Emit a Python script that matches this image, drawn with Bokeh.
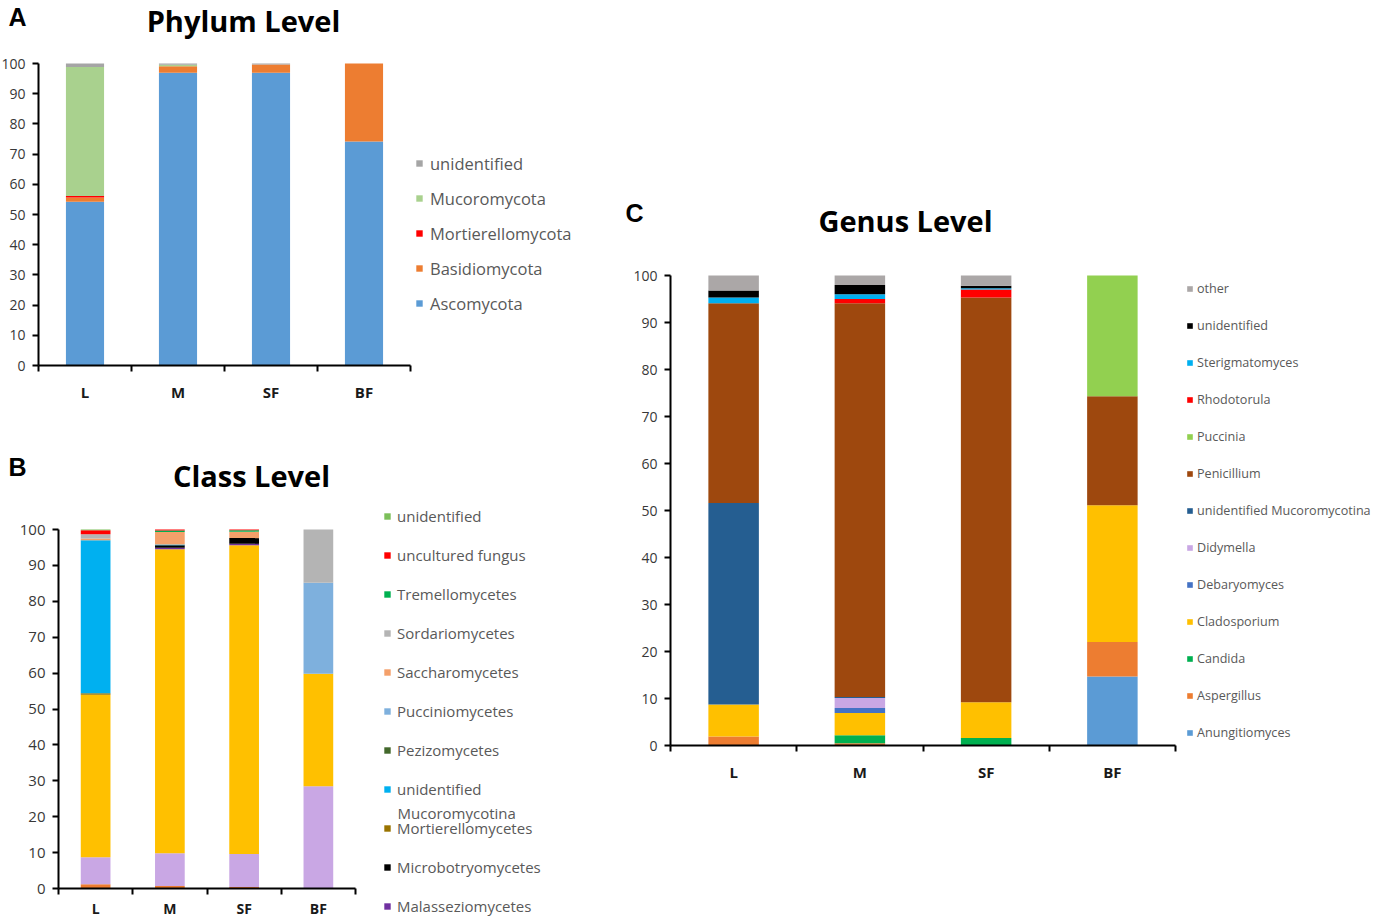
from bokeh.plotting import figure
from bokeh.models import ColumnDataSource, Range1d, FixedTicker, Legend, LegendItem, Label
from bokeh.layouts import row, column
from bokeh.embed import file_html
from bokeh.resources import INLINE

sites = ["L", "M", "SF", "BF"]

# ---------------- Phylum level (stack order bottom -> top) ----------------
phylum_names = ["Ascomycota", "Basidiomycota", "Mortierellomycota", "Mucoromycota", "unidentified"]
phylum_colors = ["#5B9BD5", "#ED7D31", "#FF0000", "#A9D18E", "#A5A5A5"]
ascomycota = [54.2, 96.9, 96.9, 74.2]
basidiomycota = [1.4, 2.2, 2.8, 25.8]
mortierellomycota = [0.5, 0.0, 0.0, 0.0]
mucoromycota = [42.7, 0.5, 0.0, 0.0]
phylum_unidentified = [1.2, 0.4, 0.3, 0.0]
phylum_values = [ascomycota, basidiomycota, mortierellomycota, mucoromycota, phylum_unidentified]
phylum_legend = ["unidentified", "Mucoromycota", "Mortierellomycota", "Basidiomycota", "Ascomycota"]

# ---------------- Class level (stack order bottom -> top) ----------------
class_names = ["Agaricomycetes", "Dothideomycetes", "Eurotiomycetes", "Malasseziomycetes",
               "Microbotryomycetes", "Mortierellomycetes", "unidentified Mucoromycotina",
               "Pezizomycetes", "Pucciniomycetes", "Saccharomycetes", "Sordariomycetes",
               "Tremellomycetes", "uncultured fungus", "unidentified"]
class_colors = ["#ED7D31", "#C9A7E4", "#FFC000", "#7030A0", "#000000", "#997300", "#00B0F0",
                "#43682B", "#7EB0DD", "#F4A06A", "#B4B4B4", "#00B050", "#FF0000", "#7CBF5A"]
agaricomycetes = [1.2, 0.7, 0.4, 0.0]
dothideomycetes = [7.5, 9.1, 9.2, 28.5]
eurotiomycetes = [45.3, 84.7, 86.0, 31.3]
malasseziomycetes = [0.0, 0.4, 0.4, 0.0]
microbotryomycetes = [0.0, 0.7, 1.6, 0.0]
mortierellomycetes = [0.4, 0.0, 0.0, 0.0]
class_unid_mucoromycotina = [42.6, 0.2, 0.0, 0.0]
pezizomycetes = [0.0, 0.0, 0.0, 0.0]
pucciniomycetes = [0.0, 0.0, 0.0, 25.4]
saccharomycetes = [0.5, 3.5, 1.8, 0.0]
sordariomycetes = [1.2, 0.0, 0.0, 14.8]
tremellomycetes = [0.0, 0.4, 0.4, 0.0]
uncultured_fungus = [1.1, 0.3, 0.2, 0.0]
class_unidentified = [0.2, 0.0, 0.0, 0.0]
class_values = [agaricomycetes, dothideomycetes, eurotiomycetes, malasseziomycetes,
                microbotryomycetes, mortierellomycetes, class_unid_mucoromycotina,
                pezizomycetes, pucciniomycetes, saccharomycetes, sordariomycetes,
                tremellomycetes, uncultured_fungus, class_unidentified]
# (series name, label shown), top -> bottom as in the visible legend
class_legend = [("unidentified", "unidentified"), ("uncultured fungus", "uncultured fungus"),
                ("Tremellomycetes", "Tremellomycetes"), ("Sordariomycetes", "Sordariomycetes"),
                ("Saccharomycetes", "Saccharomycetes"), ("Pucciniomycetes", "Pucciniomycetes"),
                ("Pezizomycetes", "Pezizomycetes"),
                ("unidentified Mucoromycotina", "unidentified"),
                ("Mortierellomycetes", "Mortierellomycetes"),
                ("Microbotryomycetes", "Microbotryomycetes"),
                ("Malasseziomycetes", "Malasseziomycetes")]

# ---------------- Genus level (stack order bottom -> top) ----------------
genus_names = ["Anungitiomyces", "Aspergillus", "Candida", "Cladosporium", "Debaryomyces",
               "Didymella", "unidentified Mucoromycotina", "Penicillium", "Puccinia",
               "Rhodotorula", "Sterigmatomyces", "unidentified", "other"]
genus_colors = ["#5B9BD5", "#ED7D31", "#00B050", "#FFC000", "#4472C4", "#C9A7E4", "#255E91",
                "#9E480E", "#92D050", "#FF0000", "#00B0F0", "#000000", "#ABA7A7"]
anungitiomyces = [0.0, 0.0, 0.0, 14.7]
aspergillus = [1.9, 0.5, 0.0, 7.3]
candida = [0.0, 1.7, 1.6, 0.0]
cladosporium = [6.8, 4.7, 7.6, 29.1]
debaryomyces = [0.0, 1.1, 0.0, 0.0]
didymella = [0.0, 2.1, 0.0, 0.0]
genus_unid_mucoromycotina = [42.9, 0.2, 0.0, 0.0]
penicillium = [42.5, 83.8, 86.1, 23.2]
puccinia = [0.0, 0.0, 0.0, 25.7]
rhodotorula = [0.0, 0.9, 1.7, 0.0]
sterigmatomyces = [1.2, 1.0, 0.3, 0.0]
genus_unidentified = [1.5, 2.0, 0.5, 0.0]
genus_other = [3.2, 2.0, 2.2, 0.0]
genus_values = [anungitiomyces, aspergillus, candida, cladosporium, debaryomyces, didymella,
                genus_unid_mucoromycotina, penicillium, puccinia, rhodotorula,
                sterigmatomyces, genus_unidentified, genus_other]
genus_legend = list(reversed(genus_names))

y_ticks = list(range(0, 101, 10))
FONT = "Open Sans"


def make_panel(width, height, axes_box, names, values, colors, legend_pairs, bar_width,
               xlab_standoff, xlab_size, tick_size, leg_cfg, title, title_xy, letter,
               letter_xy):
    """axes_box = (left, right, top, bottom) of the axes in canvas pixels (from top-left)."""
    l, r, t, b = axes_box
    n = len(sites)
    sx = (r - l) / n
    sy = (b - t) / 100.0
    x_range = Range1d(-l / sx, (width - l) / sx)
    y_range = Range1d(-(height - b) / sy, 100 + t / sy)

    data = {"x": [i + 0.5 for i in range(n)]}
    for nm, v in zip(names, values):
        data[nm] = v
    source = ColumnDataSource(data)
    p = figure(width=width, height=height, x_range=x_range, y_range=y_range,
               output_backend="svg", toolbar_location=None,
               min_border_left=0, min_border_right=0, min_border_top=0, min_border_bottom=0)
    p.xgrid.visible = False
    p.ygrid.visible = False
    p.outline_line_color = None
    rends = p.vbar_stack(names, x="x", width=bar_width, fill_color=colors,
                         line_color=None, source=source)
    rmap = dict(zip(names, rends))

    xa = p.xaxis[0]
    xa.fixed_location = 0
    xa.bounds = (0, n)
    xa.ticker = FixedTicker(ticks=data["x"], minor_ticks=list(range(n + 1)))
    xa.major_label_overrides = {x: s for x, s in zip(data["x"], sites)}
    xa.major_tick_line_color = None
    xa.major_tick_out = 0
    xa.major_tick_in = 0
    xa.minor_tick_line_color = "black"
    xa.minor_tick_line_width = 2
    xa.minor_tick_out = 6
    xa.minor_tick_in = 0
    xa.axis_line_color = "black"
    xa.axis_line_width = 2
    xa.major_label_text_font = FONT
    xa.major_label_text_font_style = "bold"
    xa.major_label_text_font_size = xlab_size
    xa.major_label_text_color = "#1a1a1a"
    xa.major_label_standoff = xlab_standoff

    ya = p.yaxis[0]
    ya.fixed_location = 0
    ya.bounds = (0, 100)
    ya.ticker = FixedTicker(ticks=y_ticks)
    ya.major_tick_line_color = "black"
    ya.major_tick_line_width = 2
    ya.major_tick_out = 6
    ya.major_tick_in = 0
    ya.minor_tick_line_color = None
    ya.axis_line_color = "black"
    ya.axis_line_width = 2
    ya.major_label_text_font = FONT
    ya.major_label_text_font_size = tick_size
    ya.major_label_text_color = "#383838"
    ya.major_label_standoff = 7

    items = [LegendItem(label=lab, renderers=[rmap[key]]) for key, lab in legend_pairs]
    lx, first_center = leg_cfg["xy"]
    lh = leg_cfg["label_height"]
    k = len(items)
    leg_h = k * lh + (k - 1) * leg_cfg["spacing"]
    top = first_center - lh / 2.0
    legend = Legend(items=items, location=(lx, height - top - leg_h),
                    orientation="vertical", padding=0, margin=0, border_line_color=None,
                    background_fill_alpha=0, glyph_width=leg_cfg["glyph"],
                    glyph_height=leg_cfg["glyph"], label_standoff=leg_cfg["standoff"],
                    label_height=lh, spacing=leg_cfg["spacing"], label_text_font=FONT,
                    label_text_font_size=leg_cfg["size"], label_text_color="#595959")
    p.add_layout(legend)

    p.add_layout(Label(x=title_xy[0], y=height - title_xy[1], x_units="screen",
                       y_units="screen", text=title, text_font=FONT, text_font_style="bold",
                       text_font_size="29px", text_color="black", text_align="center",
                       text_baseline="middle"))
    p.add_layout(Label(x=letter_xy[0], y=height - letter_xy[1], x_units="screen",
                       y_units="screen", text=letter, text_font="Liberation Sans",
                       text_font_style="bold", text_font_size="25px", text_color="black",
                       text_align="left", text_baseline="middle"))
    return p


# Panel A: canvas 610 x 432 at page (0, 0)
pA = make_panel(610, 432, (38, 410, 63, 365), phylum_names, phylum_values, phylum_colors,
                [(nm, nm) for nm in phylum_legend], 0.41, 10, "15px", "14px",
                {"xy": (415, 163), "glyph": 8, "standoff": 7, "spacing": 12,
                 "label_height": 23, "size": "16.5px"},
                "Phylum Level", (243, 20), "A", (8, 16))

# Panel B: canvas 610 x 488 at page (0, 432)
pB = make_panel(610, 488, (58, 355, 97, 456), class_names, class_values, class_colors,
                class_legend, 0.40, 4, "14px", "15px",
                {"xy": (383, 84), "glyph": 8, "standoff": 6, "spacing": 19,
                 "label_height": 20, "size": "15px"},
                "Class Level", (251, 43), "B", (8, 34))
pB.add_layout(Label(x=397, y=488 - 380, x_units="screen", y_units="screen",
                    text="Mucoromycotina", text_font=FONT, text_font_size="15px",
                    text_color="#595959", text_align="left", text_baseline="middle"))

# Panel C: canvas 762 x 920 at page (610, 0)
pC = make_panel(762, 920, (60, 565, 275, 745), genus_names, genus_values, genus_colors,
                [(nm, nm) for nm in genus_legend], 0.40, 10, "15px", "14px",
                {"xy": (576, 288), "glyph": 7, "standoff": 4, "spacing": 17,
                 "label_height": 20, "size": "12.6px"},
                "Genus Level", (295, 220), "C", (15, 212))

layout = row(column(pA, pB), pC)
open("out.html", "w").write(file_html(layout, INLINE))
